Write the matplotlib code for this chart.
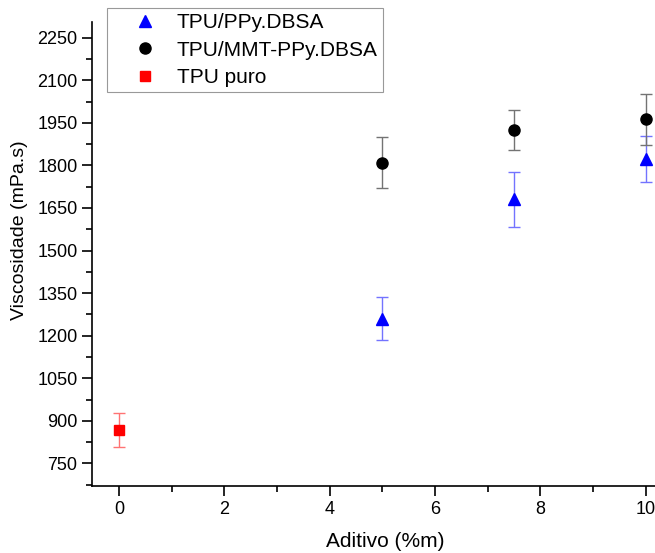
import matplotlib
matplotlib.use('Agg')
import matplotlib.pyplot as plt
from matplotlib.ticker import MultipleLocator

plt.rcParams['font.family'] = ['Liberation Sans', 'DejaVu Sans']

# TPU/PPy.DBSA
x_ppy = [5, 7.5, 10]
y_ppy = [1260, 1680, 1822]
e_ppy = [75, 97, 80]

# TPU/MMT-PPy.DBSA
x_mmt = [5, 7.5, 10]
y_mmt = [1810, 1925, 1962]
e_mmt = [90, 70, 90]

# TPU puro
x_tpu = [0]
y_tpu = [868]
e_tpu = [60]

fig = plt.figure(figsize=(6.55, 5.53), dpi=100)
ax = fig.add_axes([0.1405, 0.121, 0.859, 0.839])

def series(x, y, e, color, ecolor, marker, ms, label):
    ax.errorbar(x, y, yerr=e, fmt='none', ecolor=ecolor, elinewidth=1,
                capsize=4, capthick=1)
    ax.plot(x, y, linestyle='none', marker=marker, color=color,
            markersize=ms, label=label)

series(x_ppy, y_ppy, e_ppy, 'blue', (0.45, 0.45, 1.0), '^', 9, 'TPU/PPy.DBSA')
series(x_mmt, y_mmt, e_mmt, 'black', (0.45, 0.45, 0.45), 'o', 8, 'TPU/MMT-PPy.DBSA')
series(x_tpu, y_tpu, e_tpu, 'red', (1.0, 0.45, 0.45), 's', 7, 'TPU puro')

ax.set_xlim(-0.51, 10.17)
ax.set_ylim(670, 2305)
ax.set_yticks(range(750, 2251, 150))
ax.set_xticks(range(0, 11, 2))
ax.xaxis.set_minor_locator(MultipleLocator(1))
ax.yaxis.set_minor_locator(MultipleLocator(75))

for s in ['top', 'right']:
    ax.spines[s].set_visible(False)
for s in ['left', 'bottom']:
    ax.spines[s].set_linewidth(1.2)

ax.tick_params(which='major', direction='out', length=7, width=1.2, labelsize=13)
ax.tick_params(which='minor', direction='out', length=4, width=1.2)

ax.set_xlabel('Aditivo (%m)', fontsize=15)
ax.xaxis.set_label_coords(0.522, -0.098)
ax.set_ylabel('Viscosidade (mPa.s)', fontsize=14)
ax.yaxis.set_label_coords(-0.113, 0.552)

leg = fig.legend(loc='upper left', bbox_to_anchor=(0.1634, 0.9855), fontsize=15,
                 frameon=True, fancybox=False, edgecolor='#808080',
                 handlelength=3.1, handletextpad=0.0, borderpad=0.25,
                 labelspacing=0.4, borderaxespad=0)
leg.get_frame().set_linewidth(0.8)

fig.savefig('out.png', dpi=100)
